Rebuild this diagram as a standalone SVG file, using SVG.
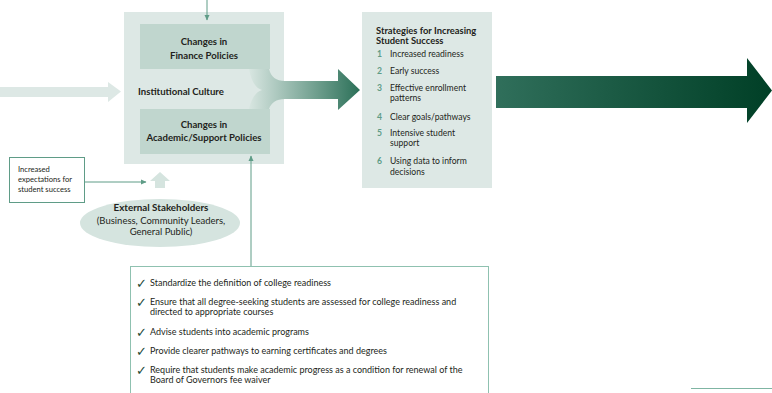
<svg xmlns="http://www.w3.org/2000/svg" width="772" height="393" viewBox="0 0 772 393">
<defs>
<style>
text{font-family:Lato,"Liberation Sans",sans-serif;fill:#231f20}
.b{font-weight:bold}
.box{fill:#dde8e5}
.inner{fill:#c0d6ce}
.num{fill:#5f9c87;font-weight:bold}
.line{stroke:#5f9c87;stroke-width:1;fill:none}
.ck{font-family:"DejaVu Sans",sans-serif;fill:#1f4a38}
</style>
<linearGradient id="g1" x1="249" y1="0" x2="360" y2="0" gradientUnits="userSpaceOnUse">
<stop offset="0" stop-color="#d8e6e1"/>
<stop offset="1" stop-color="#2b7058"/>
</linearGradient>
<linearGradient id="g2" x1="496" y1="0" x2="772" y2="0" gradientUnits="userSpaceOnUse">
<stop offset="0" stop-color="#306f5b"/>
<stop offset="1" stop-color="#003f26"/>
</linearGradient>
<marker id="ah" markerWidth="6" markerHeight="6" refX="5" refY="3" orient="auto" markerUnits="userSpaceOnUse">
<path d="M0,0.5 L5.5,3 L0,5.5 Z" fill="#5f9c87"/>
</marker>
</defs>

<g id="input-arrow">
<path class="box" d="M0,87 H108 V82 L121,91.5 L108,102 V97 H0 Z"/>
</g>

<g id="institutional-culture">
<rect class="box" x="124" y="12" width="160" height="152"/>
<text class="b" x="138" y="95" font-size="9.6">Institutional Culture</text>
</g>

<g id="finance-policies">
<rect class="inner" x="140" y="24" width="130" height="45"/>
<text class="b" x="204" y="45" font-size="9.6" text-anchor="middle">Changes in</text>
<text class="b" x="204" y="59" font-size="9.6" text-anchor="middle">Finance Policies</text>
</g>

<g id="academic-policies">
<rect class="inner" x="140" y="109" width="130" height="45"/>
<text class="b" x="204" y="128" font-size="9.6" text-anchor="middle">Changes in</text>
<text class="b" x="204" y="141" font-size="9.6" text-anchor="middle">Academic/Support Policies</text>
</g>

<g id="merge-arrow">
<path fill="url(#g1)" d="M249,69 C251,80 255,88 262,90 C255,92 251,100 249,109 H269 C271,103 276,99 285,99 H338 V110 L360,90 L338,69 V81 H285 C276,81 271,77 269,69 Z"/>
</g>

<g id="strategies">
<rect class="box" x="362" y="12" width="130" height="176"/>
<text class="b" x="376" y="34" font-size="9.4">Strategies for Increasing</text>
<text class="b" x="376" y="44" font-size="9.4">Student Success</text>
<g font-size="8.6">
<text class="num" x="377" y="57">1</text><text x="390" y="57">Increased readiness</text>
<text class="num" x="377" y="74">2</text><text x="390" y="74">Early success</text>
<text class="num" x="377" y="91">3</text><text x="390" y="91">Effective enrollment</text>
<text x="390" y="101">patterns</text>
<text class="num" x="377" y="120">4</text><text x="390" y="120">Clear goals/pathways</text>
<text class="num" x="377" y="136">5</text><text x="390" y="136">Intensive student</text>
<text x="390" y="146">support</text>
<text class="num" x="377" y="164">6</text><text x="390" y="164">Using data to inform</text>
<text x="390" y="175">decisions</text>
</g>
</g>

<g id="outcome-arrow">
<path fill="url(#g2)" d="M496,76 H747 V58 L772,90.5 L747,123 V108 H496 Z"/>
</g>

<g id="expectations">
<rect x="9.5" y="157.5" width="75" height="45" fill="#fff" stroke="#5f9c87" stroke-width="1"/>
<text x="18" y="172" font-size="7.6">Increased</text>
<text x="18" y="182" font-size="7.6">expectations for</text>
<text x="18" y="192" font-size="7.6">student success</text>
</g>

<g id="stakeholders">
<path fill="#d5e4df" d="M160,172 L170,181 H165 V188 H155 V181 H150 Z"/>
<ellipse cx="160" cy="223" rx="80" ry="24" fill="#d5e4df"/>
<text class="b" x="161" y="211" font-size="9.8" text-anchor="middle">External Stakeholders</text>
<text x="161" y="224" font-size="9.5" text-anchor="middle">(Business, Community Leaders,</text>
<text x="161" y="235" font-size="9.5" text-anchor="middle">General Public)</text>
</g>

<g id="checklist">
<rect x="130.5" y="266.5" width="358" height="140" fill="#fff" stroke="#8fc1b0" stroke-width="1"/>
<g font-size="9">
<text class="ck" x="136" y="288" font-size="13">✓</text><text x="150" y="286">Standardize the definition of college readiness</text>
<text class="ck" x="136" y="307" font-size="13">✓</text><text x="150" y="305">Ensure that all degree-seeking students are assessed for college readiness and</text>
<text x="150" y="315">directed to appropriate courses</text>
<text class="ck" x="136" y="337" font-size="13">✓</text><text x="150" y="335">Advise students into academic programs</text>
<text class="ck" x="136" y="356" font-size="13">✓</text><text x="150" y="354">Provide clearer pathways to earning certificates and degrees</text>
<text class="ck" x="136" y="375" font-size="13">✓</text><text x="150" y="373">Require that students make academic progress as a condition for renewal of the</text>
<text x="150" y="383">Board of Governors fee waiver</text>
</g>
</g>

<g id="connectors">
<line class="line" x1="207" y1="0" x2="207" y2="20" marker-end="url(#ah)"/>
<line class="line" x1="84" y1="182" x2="146" y2="182" marker-end="url(#ah)"/>
<line class="line" x1="251" y1="266" x2="251" y2="156" marker-end="url(#ah)"/>
<line x1="691" y1="388.5" x2="772" y2="388.5" stroke="#7fb5a3" stroke-width="1"/>
</g>
</svg>
